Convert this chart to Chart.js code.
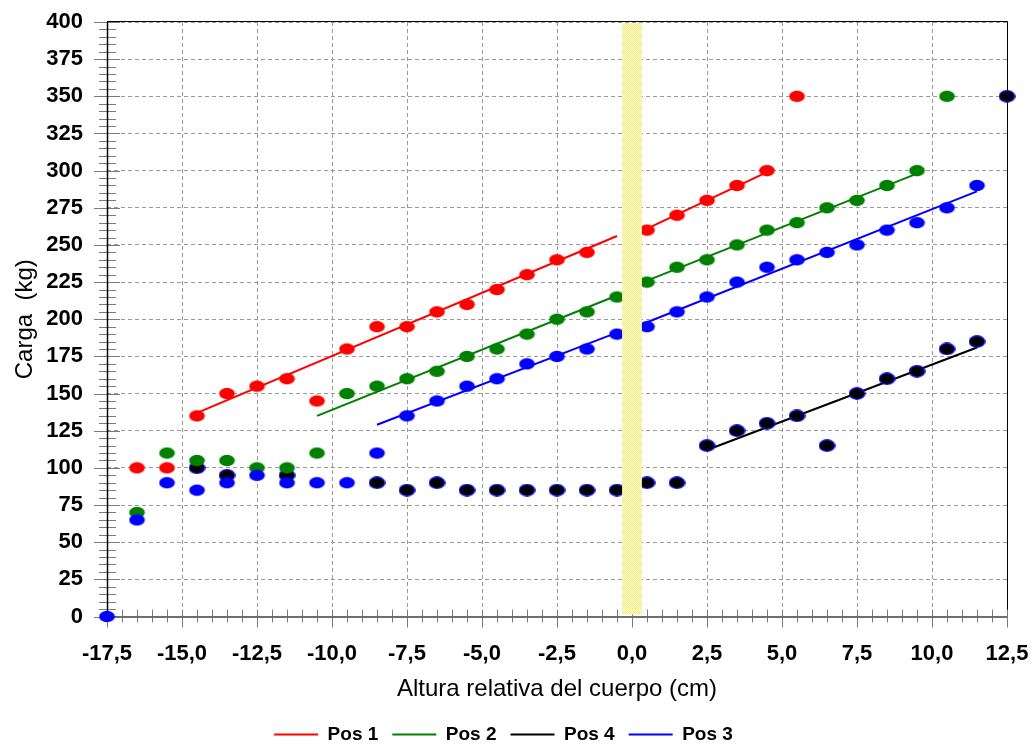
<!DOCTYPE html>
<html>
<head>
<meta charset="utf-8">
<script src="https://cdn.jsdelivr.net/npm/chart.js@4/dist/chart.umd.min.js"></script>
<style>
  html, body { margin: 0; padding: 0; background: #fff; }
  #wrap { width: 1035px; height: 747px; }
</style>
</head>
<body>
<div id="wrap"><canvas id="cargaChart" width="1035" height="747"></canvas></div>
<script>
// measured points, one pair of arrays per position
const pos1X = [-16.5, -15.5, -14.5, -13.5, -12.5, -11.5, -10.5, -9.5, -8.5, -7.5, -6.5, -5.5, -4.5, -3.5, -2.5, -1.5, 0.5, 1.5, 2.5, 3.5, 4.5, 5.5];
const pos1Y = [100, 100, 135, 150, 155, 160, 145, 180, 195, 195, 205, 210, 220, 230, 240, 245, 260, 270, 280, 290, 300, 350];

const pos2X = [-16.5, -15.5, -14.5, -13.5, -12.5, -11.5, -10.5, -9.5, -8.5, -7.5, -6.5, -5.5, -4.5, -3.5, -2.5, -1.5, -0.5, 0.5, 1.5, 2.5, 3.5, 4.5, 5.5, 6.5, 7.5, 8.5, 9.5, 10.5];
const pos2Y = [70, 110, 105, 105, 100, 100, 110, 150, 155, 160, 165, 175, 180, 190, 200, 205, 215, 225, 235, 240, 250, 260, 265, 275, 280, 290, 300, 350];

const pos3X = [-17.5, -16.5, -15.5, -14.5, -13.5, -12.5, -11.5, -10.5, -9.5, -8.5, -7.5, -6.5, -5.5, -4.5, -3.5, -2.5, -1.5, -0.5, 0.5, 1.5, 2.5, 3.5, 4.5, 5.5, 6.5, 7.5, 8.5, 9.5, 10.5, 11.5];
const pos3Y = [0, 65, 90, 85, 90, 95, 90, 90, 90, 110, 135, 145, 155, 160, 170, 175, 180, 190, 195, 205, 215, 225, 235, 240, 245, 250, 260, 265, 275, 290];

const pos4X = [-14.5, -13.5, -11.5, -8.5, -7.5, -6.5, -5.5, -4.5, -3.5, -2.5, -1.5, -0.5, 0.5, 1.5, 2.5, 3.5, 4.5, 5.5, 6.5, 7.5, 8.5, 9.5, 10.5, 11.5, 12.5];
const pos4Y = [100, 95, 95, 90, 85, 90, 85, 85, 85, 85, 85, 85, 90, 90, 115, 125, 130, 135, 115, 150, 160, 165, 180, 185, 350];

// fitted lines: start/end of each segment
const pos1FitX = [[-14.5, -0.5], [0.5, 4.5]];
const pos1FitY = [[137, 256], [261, 299]];
const pos2FitX = [[-10.5, -0.5], [0.5, 9.5]];
const pos2FitY = [[135, 216], [226, 298]];
const pos3FitX = [[-8.5, -0.5], [0.5, 11.5]];
const pos3FitY = [[129, 191], [198, 286]];
const pos4FitX = [[2.5, 11.5]];
const pos4FitY = [[112, 181]];

const legendOrder = ['Pos 1', 'Pos 2', 'Pos 4', 'Pos 3'];
const bandX = [-0.33, 0.33];

const FONT = '"Liberation Sans", Arial, sans-serif';

function toPoints(xs, ys) {
    return xs.map((x, i) => ({ x: x, y: ys[i] }));
}

// flat ellipse markers like the old spreadsheet ones
function makeMarker(fill, stroke) {
    const c = document.createElement('canvas');
    c.width = 17;
    c.height = 13;
    const g = c.getContext('2d');
    g.beginPath();
    g.ellipse(8.5, 6.5, 7.8, 5.8, 0, 0, Math.PI * 2);
    g.fillStyle = fill;
    g.fill();
    if (stroke) {
        g.lineWidth = 1.2;
        g.strokeStyle = stroke;
        g.stroke();
    }
    return c;
}

const series = [
    { name: 'Pos 3', color: '#0000FF', xs: pos3X, ys: pos3Y, fitX: pos3FitX, fitY: pos3FitY, marker: makeMarker('#0000FF') },
    { name: 'Pos 2', color: '#008000', xs: pos2X, ys: pos2Y, fitX: pos2FitX, fitY: pos2FitY, marker: makeMarker('#008000') },
    { name: 'Pos 4', color: '#000000', xs: pos4X, ys: pos4Y, fitX: pos4FitX, fitY: pos4FitY, marker: makeMarker('#000000', '#1010FF') },
    { name: 'Pos 1', color: '#FF0000', xs: pos1X, ys: pos1Y, fitX: pos1FitX, fitY: pos1FitY, marker: makeMarker('#FF0000') }
];

const datasets = [];
series.forEach((s, i) => {
    datasets.push({
        label: s.name,
        data: toPoints(s.xs, s.ys),
        pointStyle: s.marker,
        pointRadius: 8,
        showLine: false,
        clip: false,
        order: i
    });
});
series.forEach((s) => {
    s.fitX.forEach((seg, j) => {
        datasets.push({
            label: s.name + ' ajuste',
            data: toPoints(seg, s.fitY[j]),
            showLine: true,
            borderColor: s.color,
            borderWidth: 2,
            pointRadius: 0,
            order: 10
        });
    });
});

// checkered pale yellow fill for the band at zero
function bandPattern(ctx) {
    const p = document.createElement('canvas');
    p.width = 2;
    p.height = 2;
    const g = p.getContext('2d');
    g.fillStyle = '#FFFFF4';
    g.fillRect(0, 0, 2, 2);
    g.fillStyle = '#F8EE60';
    g.fillRect(0, 0, 1, 1);
    g.fillRect(1, 1, 1, 1);
    return ctx.createPattern(p, 'repeat');
}

const framePlugin = {
    id: 'frame',
    beforeDatasetsDraw(chart) {
        const { ctx, chartArea: a, scales: { x, y } } = chart;
        ctx.save();
        ctx.lineWidth = 1;
        ctx.setLineDash([]);

        // top and right border
        ctx.strokeStyle = '#000';
        ctx.beginPath();
        ctx.moveTo(a.left, Math.round(a.top) - 0.5);
        ctx.lineTo(Math.round(a.right) + 0.5, Math.round(a.top) - 0.5);
        ctx.lineTo(Math.round(a.right) + 0.5, a.bottom);
        ctx.stroke();

        // minor and major tick marks crossing the axes
        ctx.strokeStyle = '#7a7a7a';
        ctx.beginPath();
        for (let i = 0; i <= 60; i++) {
            const px = Math.round(x.getPixelForValue(x.min + i * 0.5)) + 0.5;
            const major = i % 5 === 0;
            ctx.moveTo(px, a.bottom - 7);
            ctx.lineTo(px, a.bottom + (major ? 11 : 6));
        }
        for (let i = 0; i <= 80; i++) {
            const py = Math.round(y.getPixelForValue(i * 5)) + 0.5;
            const major = i % 5 === 0;
            ctx.moveTo(a.left - (major ? 13 : 8), py);
            ctx.lineTo(a.left + (major ? 13 : 9), py);
        }
        ctx.stroke();

        // x axis line
        ctx.strokeStyle = '#6e6e6e';
        ctx.lineWidth = 2;
        ctx.beginPath();
        ctx.moveTo(a.left, Math.round(a.bottom));
        ctx.lineTo(a.right, Math.round(a.bottom));
        ctx.stroke();

        // y axis line
        ctx.strokeStyle = '#000';
        ctx.lineWidth = 1.5;
        ctx.beginPath();
        ctx.moveTo(Math.round(a.left) + 0.5, a.top);
        ctx.lineTo(Math.round(a.left) + 0.5, a.bottom);
        ctx.stroke();
        ctx.restore();
    },
    afterDatasetsDraw(chart) {
        const { ctx, chartArea: a, scales: { x } } = chart;
        const x0 = x.getPixelForValue(bandX[0]);
        const x1 = x.getPixelForValue(bandX[1]);
        ctx.save();
        ctx.fillStyle = bandPattern(ctx);
        ctx.fillRect(x0, a.top + 1, x1 - x0, a.bottom - a.top - 3);
        ctx.restore();
    }
};

const ctx = document.getElementById('cargaChart').getContext('2d');
const chart = new Chart(ctx, {
    type: 'scatter',
    data: { datasets: datasets },
    plugins: [framePlugin],
    options: {
        responsive: false,
        animation: false,
        events: [],
        layout: { padding: { left: 0, right: 28, top: 22, bottom: -7 } },
        scales: {
            x: {
                type: 'linear',
                min: -17.5,
                max: 12.5,
                afterFit: (scale) => { scale.height = 94.5; },
                ticks: {
                    stepSize: 2.5,
                    padding: 0,
                    color: '#000',
                    font: { family: FONT, size: 22, weight: 'bold' },
                    callback: (v) => Number(v).toFixed(1).replace('.', ',')
                },
                // tick marks themselves are drawn by the frame plugin
                grid: { color: '#9a9a9a', drawTicks: true, tickLength: 24, tickColor: 'rgba(0,0,0,0)', lineWidth: 1 },
                border: { display: false, dash: [4, 3] },
                title: {
                    display: true,
                    text: 'Altura relativa del cuerpo (cm)',
                    color: '#000',
                    font: { family: FONT, size: 24 },
                    padding: { top: 0, bottom: 7 }
                }
            },
            y: {
                type: 'linear',
                min: 0,
                max: 400,
                afterFit: (scale) => { scale.width = 107; },
                ticks: {
                    stepSize: 25,
                    padding: 0,
                    color: '#000',
                    font: { family: FONT, size: 22, weight: 'bold' }
                },
                grid: { color: '#9a9a9a', drawTicks: true, tickLength: 24, tickColor: 'rgba(0,0,0,0)', lineWidth: 1 },
                border: { display: false, dash: [4, 3] },
                title: {
                    display: true,
                    text: 'Carga  (kg)',
                    color: '#000',
                    font: { family: FONT, size: 24 },
                    padding: { top: 11, bottom: 0 }
                }
            }
        },
        plugins: {
            tooltip: { enabled: false },
            legend: {
                position: 'bottom',
                labels: {
                    usePointStyle: true,
                    pointStyleWidth: 44,
                    padding: 14,
                    color: '#000',
                    font: { family: FONT, size: 19, weight: 'bold' },
                    generateLabels: () => legendOrder.map((name) => {
                        const idx = series.findIndex((s) => s.name === name);
                        return {
                            text: name,
                            strokeStyle: series[idx].color,
                            fillStyle: series[idx].color,
                            lineWidth: 2,
                            pointStyle: 'line',
                            hidden: false,
                            datasetIndex: idx
                        };
                    })
                }
            }
        }
    }
});
</script>
</body>
</html>
